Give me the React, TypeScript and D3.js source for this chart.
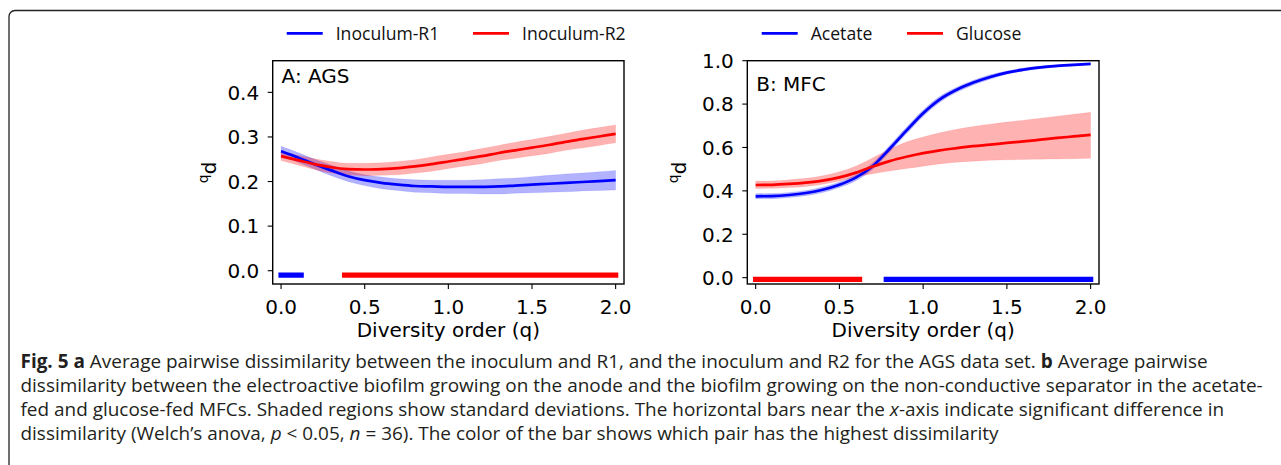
import React, { useLayoutEffect, useRef } from "react";
import * as d3 from "d3";

// ---------- data ----------
const qGrid = [0, 0.1, 0.2, 0.3, 0.4, 0.5, 0.6, 0.7, 0.8, 0.9, 1.0, 1.1, 1.2, 1.3, 1.4, 1.5, 1.6, 1.7, 1.8, 1.9, 2.0];

// Panel A: AGS
const r1Mean = [0.268, 0.254, 0.239, 0.225, 0.212, 0.203, 0.197, 0.193, 0.19, 0.189, 0.188, 0.188, 0.188, 0.189, 0.191, 0.193, 0.195, 0.197, 0.199, 0.201, 0.203];
const r1Sd = [0.011, 0.011, 0.011, 0.012, 0.012, 0.012, 0.013, 0.013, 0.014, 0.014, 0.015, 0.015, 0.016, 0.017, 0.017, 0.018, 0.019, 0.02, 0.02, 0.021, 0.022];
const r2Mean = [0.257, 0.248, 0.239, 0.232, 0.228, 0.227, 0.228, 0.23, 0.234, 0.239, 0.245, 0.251, 0.257, 0.264, 0.27, 0.276, 0.282, 0.289, 0.295, 0.301, 0.307];
const r2Sd = [0.01, 0.011, 0.012, 0.013, 0.013, 0.014, 0.014, 0.015, 0.015, 0.016, 0.016, 0.016, 0.017, 0.017, 0.018, 0.018, 0.019, 0.019, 0.02, 0.02, 0.02];
const agsSigR1 = [[0, 0.12]];
const agsSigR2 = [[0.38, 2.0]];

// Panel B: MFC
const acetateMean = [0.375, 0.376, 0.381, 0.39, 0.405, 0.428, 0.462, 0.515, 0.594, 0.678, 0.758, 0.822, 0.866, 0.899, 0.925, 0.945, 0.959, 0.969, 0.976, 0.981, 0.985];
const acetateSd = [0.012, 0.012, 0.012, 0.012, 0.013, 0.013, 0.014, 0.015, 0.015, 0.015, 0.015, 0.014, 0.012, 0.011, 0.01, 0.008, 0.007, 0.006, 0.005, 0.005, 0.004];
const glucoseMean = [0.427, 0.428, 0.432, 0.438, 0.447, 0.462, 0.484, 0.512, 0.537, 0.557, 0.574, 0.587, 0.597, 0.606, 0.613, 0.621, 0.628, 0.636, 0.644, 0.651, 0.658];
const glucoseLow = [0.411, 0.412, 0.415, 0.42, 0.43, 0.445, 0.465, 0.479, 0.491, 0.503, 0.514, 0.524, 0.532, 0.537, 0.541, 0.543, 0.545, 0.546, 0.547, 0.548, 0.55];
const glucoseHigh = [0.445, 0.446, 0.451, 0.458, 0.47, 0.488, 0.515, 0.553, 0.592, 0.625, 0.648, 0.668, 0.684, 0.697, 0.707, 0.717, 0.726, 0.735, 0.744, 0.753, 0.762];
const mfcSigGlucose = [[0, 0.62]];
const mfcSigAcetate = [[0.78, 2.0]];

const xTicks = [0, 0.5, 1.0, 1.5, 2.0];
const agsYTicks = [0.0, 0.1, 0.2, 0.3, 0.4];
const mfcYTicks = [0.0, 0.2, 0.4, 0.6, 0.8, 1.0];

const captionLines = [
  [
    { t: "Fig. 5 a", b: true },
    { t: " Average pairwise dissimilarity between the inoculum and R1, and the inoculum and R2 for the AGS data set. " },
    { t: "b", b: true },
    { t: " Average pairwise" },
  ],
  [{ t: "dissimilarity between the electroactive biofilm growing on the anode and the biofilm growing on the non-conductive separator in the acetate-" }],
  [
    { t: "fed and glucose-fed MFCs. Shaded regions show standard deviations. The horizontal bars near the " },
    { t: "x", i: true },
    { t: "-axis indicate significant difference in" },
  ],
  [
    { t: "dissimilarity (Welch\u2019s anova, " },
    { t: "p", i: true },
    { t: " < 0.05, " },
    { t: "n", i: true },
    { t: " = 36). The color of the bar shows which pair has the highest dissimilarity" },
  ],
];
// width of the second (longest) caption line, used to size the caption font
const captionRefWidth = 1243;

const BLUE = "#0000ff";
const RED = "#ff0000";
const FONT = "DejaVu Sans, sans-serif";

type Series = { mean: number[]; lo: number[]; hi: number[]; color: string };

function Panel(props: {
  left: number; right: number; top: number; bottom: number;
  yDomain: [number, number]; yTicks: number[];
  series: Series[]; bars: { ranges: number[][]; color: string; y: number }[];
  title: string; titleBaseline: number; yLabelX: number;
  legend: { label: string; color: string; x: number }[];
}) {
  const { left, right, top, bottom } = props;
  const x = d3.scaleLinear().domain([-0.05, 2.05]).range([left, right]);
  const y = d3.scaleLinear().domain(props.yDomain).range([bottom, top]);
  const area = d3.area<number>()
    .x((_, i) => x(qGrid[i]))
    .curve(d3.curveMonotoneX);
  const line = d3.line<number>()
    .x((_, i) => x(qGrid[i]))
    .y((d) => y(d))
    .curve(d3.curveMonotoneX);
  const cy = (top + bottom) / 2;
  const clipId = "clip" + Math.round(left);
  return (
    <g>
      <defs>
        <clipPath id={clipId}>
          <rect x={left} y={top} width={right - left} height={bottom - top} />
        </clipPath>
      </defs>
      {props.legend.map((l) => (
        <g key={l.label}>
          <line x1={l.x} x2={l.x + 36} y1={33.3} y2={33.3} stroke={l.color} strokeWidth={2.7} />
          <text x={l.x + 49} y={40} fontFamily="Open Sans, sans-serif" fontSize={17.6} fill="#111">{l.label}</text>
        </g>
      ))}
      <g clipPath={`url(#${clipId})`}>
        {props.series.map((s, k) => (
          <path key={"a" + k}
            d={area.y0((_, i) => y(s.lo[i])).y1((_, i) => y(s.hi[i]))(s.mean) || ""}
            fill={s.color} fillOpacity={0.3} stroke={s.color} strokeOpacity={0.08} strokeWidth={1} />
        ))}
        {props.series.map((s, k) => (
          <path key={"l" + k} d={line(s.mean) || ""} fill="none" stroke={s.color} strokeWidth={2.7} />
        ))}
        {props.bars.map((b, k) =>
          b.ranges.map((r, j) => (
            <line key={k + "-" + j} x1={x(r[0])} x2={x(r[1])} y1={y(b.y)} y2={y(b.y)}
              stroke={b.color} strokeWidth={5.3} strokeLinecap="square" />
          ))
        )}
      </g>
      <rect x={left} y={top} width={right - left} height={bottom - top} fill="none" stroke="#000" strokeWidth={1.4} />
      {xTicks.map((t) => (
        <g key={"x" + t}>
          <line x1={x(t)} x2={x(t)} y1={bottom} y2={bottom + 5} stroke="#000" strokeWidth={1.1} />
          <text x={x(t)} y={313.5} textAnchor="middle" fontFamily={FONT} fontSize={20} fill="#000">{t.toFixed(1)}</text>
        </g>
      ))}
      {props.yTicks.map((t) => (
        <g key={"y" + t}>
          <line x1={left - 5} x2={left} y1={y(t)} y2={y(t)} stroke="#000" strokeWidth={1.1} />
          <text x={left - 13.5} y={y(t) + 7.3} textAnchor="end" fontFamily={FONT} fontSize={20} fill="#000">{t.toFixed(1)}</text>
        </g>
      ))}
      <text x={(left + right) / 2} y={337} textAnchor="middle" fontFamily={FONT} fontSize={20} fill="#000">Diversity order (q)</text>
      <text transform={`translate(${props.yLabelX},${cy}) rotate(-90)`} textAnchor="middle" fontFamily={FONT} fontSize={20} fill="#000">
        <tspan fontSize={14} dy={-8}>q</tspan><tspan dy={8}>d</tspan>
      </text>
      <text x={x(0) + 0.5} y={props.titleBaseline} fontFamily={FONT} fontSize={20} fill="#000">{props.title}</text>
    </g>
  );
}

export default function App() {
  const capRefs = useRef<(SVGTextElement | null)[]>([]);
  useLayoutEffect(() => {
    const ref = capRefs.current[1];
    if (!ref) return;
    const base = 16;
    capRefs.current.forEach((el) => el && el.setAttribute("font-size", String(base)));
    const nat = ref.getComputedTextLength();
    const fs = base * captionRefWidth / nat;
    capRefs.current.forEach((el) => el && el.setAttribute("font-size", String(fs)));
  }, []);
  return (
    <svg width={1281} height={465} style={{ position: "absolute", left: 0, top: 0, background: "#fff" }}>
      <rect x={0} y={0} width={1281} height={465} fill="#fff" />
      <rect x={9} y={10.5} width={1400} height={600} rx={6} ry={6} fill="none" stroke="#222" strokeWidth={1.3} />
      <Panel
        left={272.7} right={624} top={60.7} bottom={284}
        yDomain={[-0.0298, 0.471]} yTicks={agsYTicks}
        series={[
          { mean: r1Mean, lo: r1Mean.map((m, i) => m - r1Sd[i]), hi: r1Mean.map((m, i) => m + r1Sd[i]), color: BLUE },
          { mean: r2Mean, lo: r2Mean.map((m, i) => m - r2Sd[i]), hi: r2Mean.map((m, i) => m + r2Sd[i]), color: RED },
        ]}
        bars={[
          { ranges: agsSigR1, color: BLUE, y: -0.01 },
          { ranges: agsSigR2, color: RED, y: -0.01 },
        ]}
        title="A: AGS" titleBaseline={83} yLabelX={216}
        legend={[
          { label: "Inoculum-R1", color: BLUE, x: 286.7 },
          { label: "Inoculum-R2", color: RED, x: 473 },
        ]}
      />
      <Panel
        left={747.3} right={1099} top={60.7} bottom={284}
        yDomain={[-0.0293, 1.0]} yTicks={mfcYTicks}
        series={[
          { mean: acetateMean, lo: acetateMean.map((m, i) => m - acetateSd[i]), hi: acetateMean.map((m, i) => m + acetateSd[i]), color: BLUE },
          { mean: glucoseMean, lo: glucoseLow, hi: glucoseHigh, color: RED },
        ]}
        bars={[
          { ranges: mfcSigGlucose, color: RED, y: -0.008 },
          { ranges: mfcSigAcetate, color: BLUE, y: -0.008 },
        ]}
        title="B: MFC" titleBaseline={91} yLabelX={686}
        legend={[
          { label: "Acetate", color: BLUE, x: 761.7 },
          { label: "Glucose", color: RED, x: 907 },
        ]}
      />
      {captionLines.map((ln, k) => (
        <text key={k} ref={(el) => { capRefs.current[k] = el; }} x={20.5} y={368 + k * 24}
          fontFamily="Open Sans, sans-serif" fontSize={17} fill="#231f20">
          {ln.map((s: any, j: number) => (
            <tspan key={j} fontWeight={s.b ? "bold" : "normal"} fontStyle={s.i ? "italic" : "normal"}>{s.t}</tspan>
          ))}
        </text>
      ))}
    </svg>
  );
}
